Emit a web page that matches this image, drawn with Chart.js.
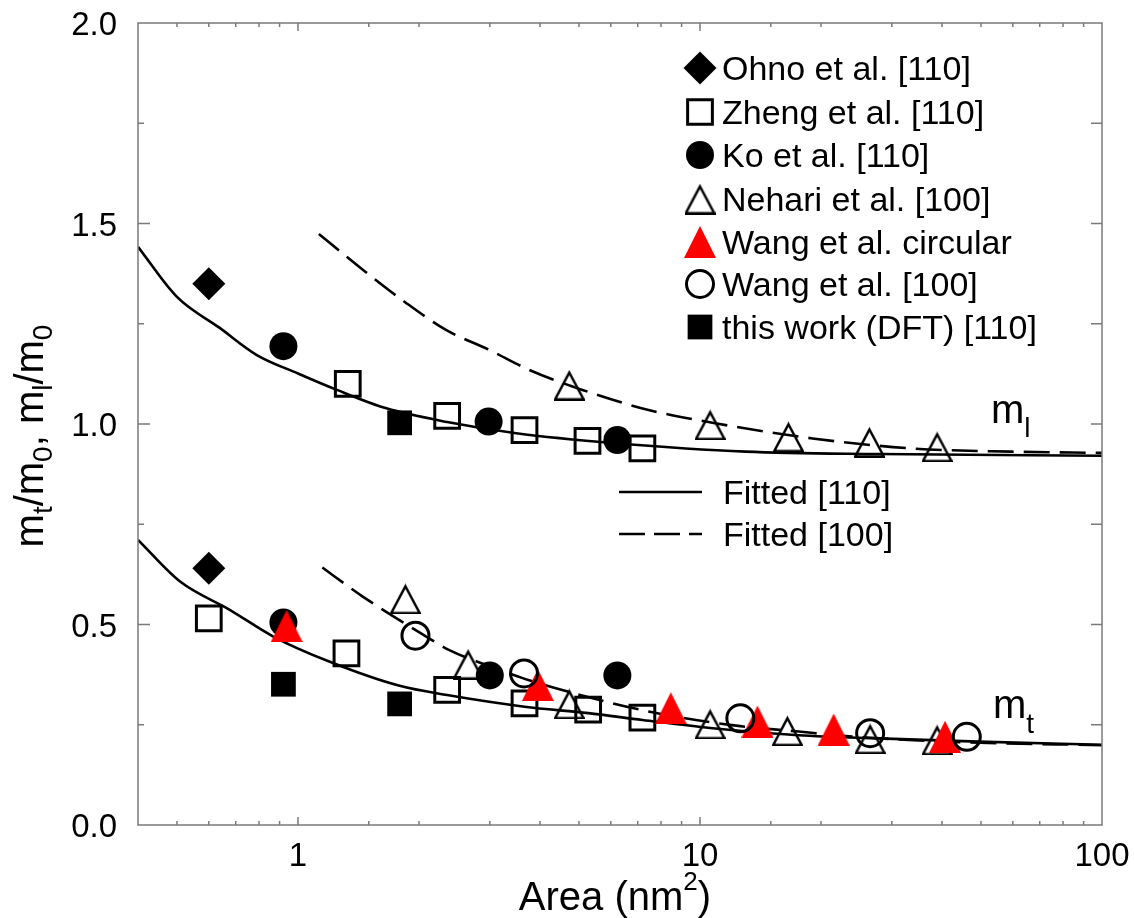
<!DOCTYPE html>
<html>
<head>
<meta charset="utf-8">
<script src="https://cdn.jsdelivr.net/npm/chart.js@4.4.1/dist/chart.umd.min.js"></script>
<style>
  html, body { margin: 0; padding: 0; background: #fff; }
  #wrap { width: 1134px; height: 918px; }
</style>
</head>
<body>
<div id="wrap"><canvas id="chart" width="1134" height="918"></canvas></div>
<script>
const FONT = '"Liberation Sans", Arial, Helvetica, sans-serif';
const AXIS_GRAY = "#7a7a7a";
const RED = "#ff0000";

// measured points, area in nm^2 vs m/m0 (upper group = m_l, lower group = m_t)
const ohnoX = [0.6, 0.6];
const ohnoY = [1.35, 0.64];

const zhengX = [1.33, 2.35, 3.66, 5.25, 7.19, 0.6, 1.32, 2.35, 3.66, 5.27, 7.19];
const zhengY = [1.10, 1.02, 0.985, 0.958, 0.939, 0.515, 0.428, 0.337, 0.303, 0.288, 0.268];

const koX = [0.92, 2.98, 6.23, 0.92, 3.0, 6.23];
const koY = [1.194, 1.006, 0.96, 0.505, 0.373, 0.373];

const nehariX = [4.73, 10.6, 16.6, 26.4, 38.9, 1.85, 2.65, 4.73, 10.6, 16.5, 26.5, 38.9];
const nehariY = [1.097, 0.998, 0.968, 0.955, 0.943, 0.564, 0.401, 0.302, 0.252, 0.235, 0.215, 0.212];

const wangCircX = [0.937, 3.95, 8.46, 13.9, 21.5, 40.7];
const wangCircY = [0.496, 0.349, 0.291, 0.258, 0.238, 0.22];

const wang100X = [1.96, 3.65, 12.6, 26.5, 46.1];
const wang100Y = [0.472, 0.378, 0.266, 0.229, 0.22];

const dftX = [1.79, 0.92, 1.79];
const dftY = [1.003, 0.351, 0.302];

// fitted curves
const fitMl110X = [0.4, 0.5, 0.64, 0.79, 1.0, 1.25, 1.66, 2.35, 3.49, 6.19, 13.0, 27.8, 100];
const fitMl110Y = [1.442, 1.317, 1.239, 1.172, 1.126, 1.085, 1.039, 1.005, 0.977, 0.952, 0.931, 0.925, 0.921];

const fitMl100X = [1.127, 1.452, 1.84, 2.34, 2.99, 3.76, 5.10, 7.45, 10.9, 19.05, 33.7, 59.6, 100];
const fitMl100Y = [1.474, 1.384, 1.305, 1.234, 1.185, 1.135, 1.085, 1.035, 1.002, 0.964, 0.939, 0.931, 0.928];

const fitMt110X = [0.4, 0.509, 0.678, 0.868, 1.2, 1.79, 2.35, 3.66, 5.27, 7.19, 10.6, 17.6, 27.8, 49.2, 100];
const fitMt110Y = [0.711, 0.607, 0.536, 0.47, 0.407, 0.347, 0.324, 0.295, 0.279, 0.262, 0.242, 0.224, 0.216, 0.208, 0.2];

const fitMt100X = [1.15, 1.452, 2.085, 2.38, 2.94, 3.65, 4.38, 7.45, 12.0, 17.6, 23, 40, 100];
const fitMt100Y = [0.642, 0.569, 0.47, 0.436, 0.399, 0.365, 0.341, 0.283, 0.249, 0.233, 0.222, 0.208, 0.199];

const xLabelValues = [1, 10, 100];
const xLabels = ["1", "10", "100"];
const yLabelValues = [0, 0.5, 1.0, 1.5, 2.0];
const yLabels = ["0.0", "0.5", "1.0", "1.5", "2.0"];

function pts(xs, ys) {
  return xs.map((x, i) => ({ x, y: ys[i] }));
}

function makeTriangle(w, h, fill, stroke, lw) {
  const c = document.createElement("canvas");
  c.width = w;
  c.height = h;
  const g = c.getContext("2d");
  const p = lw / 2;
  g.beginPath();
  g.moveTo(w / 2, stroke ? lw * 1.2 : 0);
  g.lineTo(w - p, h - p);
  g.lineTo(p, h - p);
  g.closePath();
  if (fill) {
    g.fillStyle = fill;
    g.fill();
  }
  if (stroke) {
    g.strokeStyle = stroke;
    g.lineWidth = lw;
    g.stroke();
  }
  return c;
}

const openTriangle = makeTriangle(31, 31, null, "#000", 2.5);
const redTriangle = makeTriangle(32, 32, RED, null, 0);

function markerSet(label, xs, ys, style, order) {
  return Object.assign({
    label,
    data: pts(xs, ys),
    showLine: false,
    order,
    rotation: 0
  }, style);
}

function fitLine(label, xs, ys, dashed) {
  return {
    label,
    data: pts(xs, ys),
    showLine: true,
    borderColor: "#000",
    borderWidth: 2.6,
    borderDash: dashed ? [26, 10] : [],
    pointRadius: 0,
    cubicInterpolationMode: "monotone",
    fill: false,
    order: 20
  };
}

const markerDatasets = [
  markerSet("Ohno et al. [110]", ohnoX, ohnoY,
    { pointStyle: "rectRot", pointRadius: 16.5, pointBackgroundColor: "#000", pointBorderColor: "#000", pointBorderWidth: 0 }, 4),
  markerSet("Zheng et al. [110]", zhengX, zhengY,
    { pointStyle: "rect", pointRadius: 17.5, pointBackgroundColor: "rgba(0,0,0,0)", pointBorderColor: "#000", pointBorderWidth: 3 }, 5),
  markerSet("Ko et al. [110]", koX, koY,
    { pointStyle: "circle", pointRadius: 14, pointBackgroundColor: "#000", pointBorderColor: "#000", pointBorderWidth: 0 }, 6),
  markerSet("Nehari et al. [100]", nehariX, nehariY,
    { pointStyle: openTriangle, pointRadius: 15 }, 7),
  markerSet("Wang et al. circular", wangCircX, wangCircY,
    { pointStyle: redTriangle, pointRadius: 16 }, 2),
  markerSet("Wang et al. [100]", wang100X, wang100Y,
    { pointStyle: "circle", pointRadius: 13.5, pointBackgroundColor: "rgba(0,0,0,0)", pointBorderColor: "#000", pointBorderWidth: 3 }, 1),
  markerSet("this work (DFT) [110]", dftX, dftY,
    { pointStyle: "rect", pointRadius: 17.5, pointBackgroundColor: "#000", pointBorderColor: "#000", pointBorderWidth: 0 }, 3)
];

const fitDatasets = [
  fitLine("Fitted [110]", fitMl110X, fitMl110Y, false),
  fitLine("Fitted [100]", fitMl100X, fitMl100Y, true),
  fitLine("Fitted [110] mt", fitMt110X, fitMt110Y, false),
  fitLine("Fitted [100] mt", fitMt100X, fitMt100Y, true)
];

function isOneOf(v, list) {
  return list.some((l) => Math.abs(v - l) < 1e-9 * Math.max(1, l));
}

// text with sub/superscripts: parts = [text, size, dy]
function richWidth(ctx, parts) {
  let w = 0;
  parts.forEach(([t, size]) => {
    ctx.font = `${size}px ${FONT}`;
    w += ctx.measureText(t).width;
  });
  return w;
}

function drawRich(ctx, parts, x, y) {
  let cx = x;
  parts.forEach(([t, size, dy]) => {
    ctx.font = `${size}px ${FONT}`;
    ctx.fillText(t, cx, y + dy);
    cx += ctx.measureText(t).width;
  });
}

const framePlugin = {
  id: "frame",
  afterDraw(chart) {
    const { ctx, chartArea: a, scales } = chart;
    const xs = scales.x;
    const ys = scales.y;
    ctx.save();

    // box
    ctx.strokeStyle = AXIS_GRAY;
    ctx.lineWidth = 1.5;
    ctx.strokeRect(a.left, a.top, a.right - a.left, a.bottom - a.top);

    // inward ticks on all four sides
    ctx.beginPath();
    xs.ticks.forEach((t) => {
      const px = xs.getPixelForValue(t.value);
      if (px <= a.left + 1 || px >= a.right - 1) return;
      const len = isOneOf(t.value, xLabelValues) ? 8 : 4;
      ctx.moveTo(px, a.bottom);
      ctx.lineTo(px, a.bottom - len);
      ctx.moveTo(px, a.top);
      ctx.lineTo(px, a.top + len);
    });
    ys.ticks.forEach((t) => {
      const py = ys.getPixelForValue(t.value);
      if (py <= a.top + 1 || py >= a.bottom - 1) return;
      const len = isOneOf(t.value, yLabelValues) ? 12 : 6;
      ctx.moveTo(a.left, py);
      ctx.lineTo(a.left + len, py);
      ctx.moveTo(a.right, py);
      ctx.lineTo(a.right - 11, py);
    });
    ctx.stroke();

    ctx.fillStyle = "#000";
    ctx.textBaseline = "alphabetic";

    // tick labels
    ctx.font = `33px ${FONT}`;
    ctx.textAlign = "center";
    xLabelValues.forEach((v, i) => {
      ctx.fillText(xLabels[i], xs.getPixelForValue(v), 866);
    });
    ctx.textAlign = "right";
    yLabelValues.forEach((v, i) => {
      ctx.fillText(yLabels[i], 117, ys.getPixelForValue(v) + 12);
    });
    ctx.textAlign = "left";

    // x axis title
    const xTitle = [["Area (nm", 40, 0], ["2", 26, -20], [")", 40, 0]];
    drawRich(ctx, xTitle, 615 - richWidth(ctx, xTitle) / 2, 910);

    // y axis title, rotated
    const yTitle = [
      ["m", 40, 0], ["t", 28, 9], ["/m", 40, 0], ["0", 28, 9],
      [", m", 40, 0], ["l", 28, 9], ["/m", 40, 0], ["0", 28, 9]
    ];
    ctx.save();
    ctx.translate(43, 436);
    ctx.rotate(-Math.PI / 2);
    drawRich(ctx, yTitle, -richWidth(ctx, yTitle) / 2, 0);
    ctx.restore();

    // curve labels
    drawRich(ctx, [["m", 40, 0], ["l", 28, 14]], 991, 423);
    drawRich(ctx, [["m", 40, 0], ["t", 28, 15]], 993, 718);

    // legend for markers
    const rows = [68, 112, 155, 199, 242, 284, 327];
    markerDatasets.forEach((ds, i) => {
      const y = rows[i];
      ctx.fillStyle = ds.pointBackgroundColor || "#000";
      ctx.strokeStyle = ds.pointBorderColor || "#000";
      ctx.lineWidth = ds.pointBorderWidth || 0;
      Chart.helpers.drawPoint(ctx, {
        pointStyle: ds.pointStyle,
        radius: ds.pointRadius,
        rotation: 0,
        borderWidth: ds.pointBorderWidth || 0
      }, 700, y);
      ctx.fillStyle = "#000";
      ctx.font = `34px ${FONT}`;
      ctx.fillText(ds.label, 722, y + 12);
    });

    // legend for fitted lines
    ctx.strokeStyle = "#000";
    ctx.lineWidth = 2.6;
    [[492, []], [534, [26, 9]]].forEach(([y, dash], i) => {
      ctx.setLineDash(dash);
      ctx.beginPath();
      ctx.moveTo(619, y);
      ctx.lineTo(702, y);
      ctx.stroke();
      ctx.setLineDash([]);
      ctx.font = `34px ${FONT}`;
      ctx.fillText(i === 0 ? "Fitted [110]" : "Fitted [100]", 723, y + 12);
    });

    ctx.restore();
  }
};

new Chart(document.getElementById("chart"), {
  type: "scatter",
  data: { datasets: [...markerDatasets, ...fitDatasets] },
  options: {
    responsive: false,
    animation: false,
    layout: { padding: { top: 23, right: 32, left: 0, bottom: 0 } },
    plugins: {
      legend: { display: false },
      tooltip: { enabled: false }
    },
    scales: {
      x: {
        type: "logarithmic",
        min: 0.4,
        max: 100,
        grid: { display: false, drawTicks: false },
        border: { display: false },
        ticks: { display: false, autoSkip: false },
        afterFit: (s) => { s.height = 93; }
      },
      y: {
        min: 0,
        max: 2,
        grid: { display: false, drawTicks: false },
        border: { display: false },
        ticks: { display: false, stepSize: 0.25 },
        afterFit: (s) => { s.width = 138; }
      }
    }
  },
  plugins: [framePlugin]
});
</script>
</body>
</html>
